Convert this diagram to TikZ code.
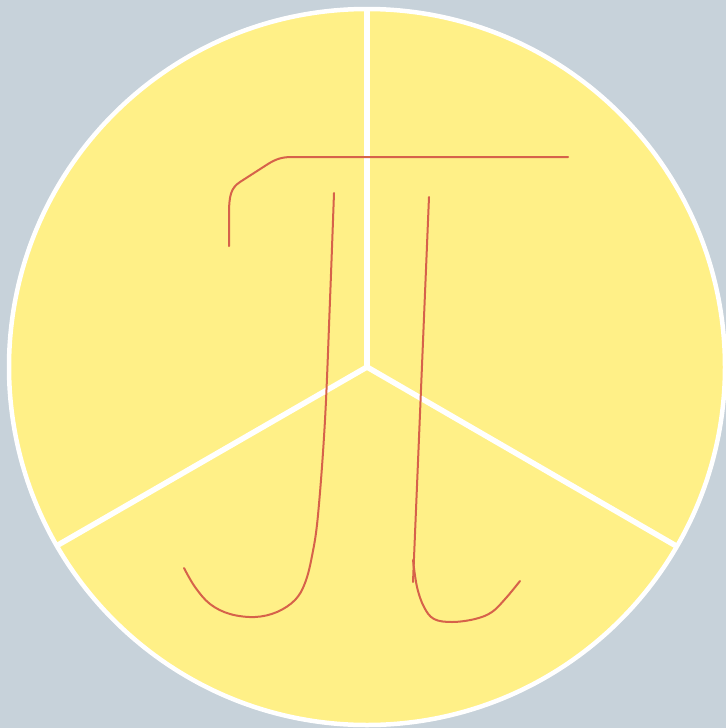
\documentclass[tikz,border=0pt]{standalone}
\definecolor{bgc}{HTML}{C7D2DA}
\definecolor{pieyellow}{HTML}{FFF087}
\definecolor{pired}{HTML}{D6624A}
\tikzset{
  disc/.style={fill=pieyellow, draw=white, line width=4.5pt},
  divider/.style={draw=white, line width=5.5pt},
  pistroke/.style={draw=pired, line width=2pt, line cap=round, line join=round}
}
\begin{document}
\begin{tikzpicture}[x=1pt,y=-1pt]
\fill[bgc] (0,0) rectangle (726,728);
\useasboundingbox (0,0) rectangle (726,728);
\coordinate (c) at (367,367);
\path[disc] (c) circle[radius=358];
\coordinate (top) at (367,9);
\coordinate (ll) at (58,545);
\coordinate (lr) at (678,547);
\draw[divider] (c) -- (top);
\draw[divider] (c) -- (ll);
\draw[divider] (c) -- (lr);
% pi top bar
\draw[pistroke] (229,246) -- (229,215) .. controls (229,195) and (231,188) .. (240,182)
  -- (268,164) .. controls (276,159) and (282,157) .. (292,157) -- (568,157);
% left leg
\draw[pistroke] plot[smooth, tension=0.6] coordinates {(334,193) (330,300) (325,420) (318,515) (312,556) (305,583) (295,600) (277,612) (255,617) (230,614) (210,604) (195,587) (184,568)};
% right leg
\draw[pistroke] (429,197) -- (413,582);
\draw[pistroke] plot[smooth, tension=0.6] coordinates {(413,560) (417,587) (424,607) (434,619) (452,622) (475,619) (492,612) (506,598) (520,581)};
\end{tikzpicture}
\end{document}
